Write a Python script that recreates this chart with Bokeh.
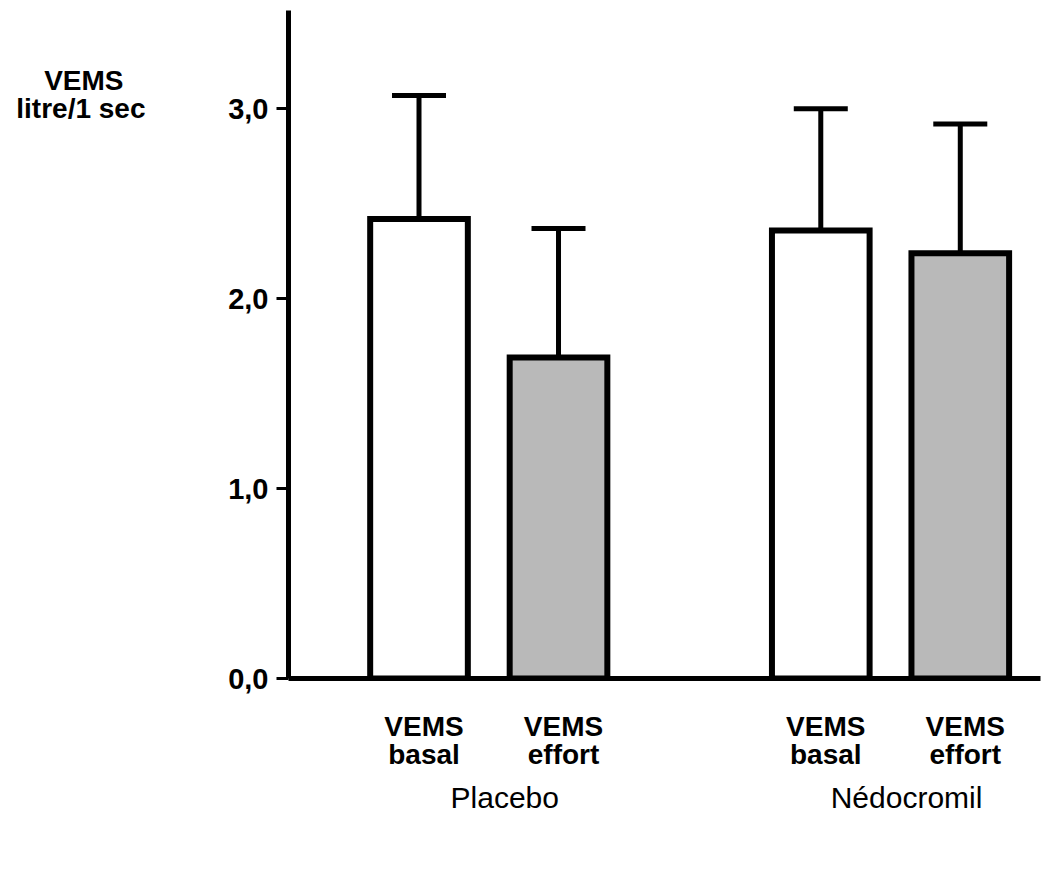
from bokeh.plotting import figure
from bokeh.models import ColumnDataSource, Range1d, FixedTicker, Whisker, TeeHead, LinearAxis
from bokeh.embed import file_html
from bokeh.resources import INLINE

# ---- data ----
groups = ["Placebo", "Nédocromil"]
conditions = ["VEMS basal", "VEMS effort"]
means = [2.42, 1.69, 2.36, 2.24]        # VEMS (litre/1 sec)
sd_upper = [0.65, 0.68, 0.64, 0.68]     # upper error
fills = ["white", "#b9b9b9"]            # per condition
y_ticks = [0, 1, 2, 3]
y_tick_labels = ["0,0", "1,0", "2,0", "3,0"]
y_title = ["VEMS", "litre/1 sec"]

GROUP_STEP = 2.88
xs, tops, up, fc, top_word, bottom_word, grp_x = [], [], [], [], [], [], []
k = 0
for gi, g in enumerate(groups):
    for ci, c in enumerate(conditions):
        x = gi * GROUP_STEP + ci
        xs.append(x)
        tops.append(means[k])
        up.append(means[k] + sd_upper[k])
        fc.append(fills[ci])
        w = c.split(" ")
        top_word.append(w[0])
        bottom_word.append(w[1])
        k += 1
    grp_x.append(gi * GROUP_STEP + (len(conditions) - 1) / 2)

src = ColumnDataSource(dict(x=xs, top=tops, upper=up, fill=fc))

W, H = 1045, 865
BL, BR, BT, BB = 288, 5, 10, 187
X0, X1 = -0.9355, 4.455
Y0, Y1 = 0, 3.518
px_x = (W - BL - BR) / (X1 - X0)
px_y = (H - BT - BB) / (Y1 - Y0)

def shifted(dpx):
    d = dpx / px_x
    return Range1d(X0 - d, X1 - d)

p = figure(width=W, height=H, output_backend="svg", toolbar_location=None,
           x_range=Range1d(X0, X1), y_range=Range1d(Y0, Y1))
p.extra_x_ranges = {"cat": shifted(5), "grp": shifted(16)}
p.min_border_left = BL
p.min_border_right = BR
p.min_border_top = BT
p.min_border_bottom = BB
p.outline_line_color = None
p.xgrid.visible = False
p.ygrid.visible = False
p.background_fill_color = "white"
p.border_fill_color = "white"

p.vbar(x="x", top="top", bottom=0, width=0.70, source=src, fill_color="fill",
       line_color="black", line_width=6, line_join="miter")

wh = Whisker(source=src, base="x", upper="upper", lower="top", dimension="height",
             line_color="black", line_width=5,
             upper_head=TeeHead(size=54, line_width=5, line_color="black"), lower_head=None)
p.add_layout(wh)

FONT = "Liberation Sans"

def label_only(ax, size, bold, standoff):
    ax.axis_line_color = None
    ax.major_tick_line_color = None
    ax.major_tick_out = 0
    ax.minor_tick_line_color = None
    ax.major_label_standoff = standoff
    ax.major_label_text_font = FONT
    ax.major_label_text_font_style = "bold" if bold else "normal"
    ax.major_label_text_font_size = size
    ax.major_label_text_color = "black"

# y axis
ya = p.yaxis[0]
ya.ticker = FixedTicker(ticks=y_ticks)
ya.major_label_overrides = {t: l for t, l in zip(y_ticks, y_tick_labels)}
ya.axis_line_width = 5
ya.axis_line_color = "black"
ya.major_tick_out = 12
ya.major_tick_in = 0
ya.major_tick_line_width = 3
ya.minor_tick_line_color = None
ya.major_label_standoff = 8
ya.major_label_text_font = FONT
ya.major_label_text_font_style = "bold"
ya.major_label_text_font_size = "29px"
ya.major_label_text_color = "black"

# y title: two label-only axes, lines centred on each other
t_top = y_ticks[-1] + 28 / px_y
yt1 = LinearAxis(ticker=FixedTicker(ticks=[t_top]), major_label_overrides={t_top: y_title[0]})
label_only(yt1, "28px", True, 102)
p.add_layout(yt1, "left")
yt2 = LinearAxis(ticker=FixedTicker(ticks=[y_ticks[-1]]),
                 major_label_overrides={y_ticks[-1]: y_title[1]})
label_only(yt2, "28px", True, -104)
p.add_layout(yt2, "left")

# x axis (baseline only)
xa = p.xaxis[0]
xa.ticker = FixedTicker(ticks=[])
xa.axis_line_width = 5
xa.axis_line_color = "black"
xa.major_tick_line_color = None
xa.minor_tick_line_color = None
xa.major_label_standoff = 0
xa.major_tick_out = 0

# first label row
xr1 = LinearAxis(x_range_name="cat", ticker=FixedTicker(ticks=xs),
                 major_label_overrides={x: t for x, t in zip(xs, top_word)})
label_only(xr1, "28px", True, 32)
p.add_layout(xr1, "below")

# second label row
xr2 = LinearAxis(x_range_name="cat", ticker=FixedTicker(ticks=xs),
                 major_label_overrides={x: t for x, t in zip(xs, bottom_word)})
label_only(xr2, "28px", True, -6)
p.add_layout(xr2, "below")

# group labels
xg = LinearAxis(x_range_name="grp", ticker=FixedTicker(ticks=grp_x),
                major_label_overrides={x: g for x, g in zip(grp_x, groups)})
label_only(xg, "30px", False, 8)
p.add_layout(xg, "below")

open("out.html", "w").write(file_html(p, INLINE))
